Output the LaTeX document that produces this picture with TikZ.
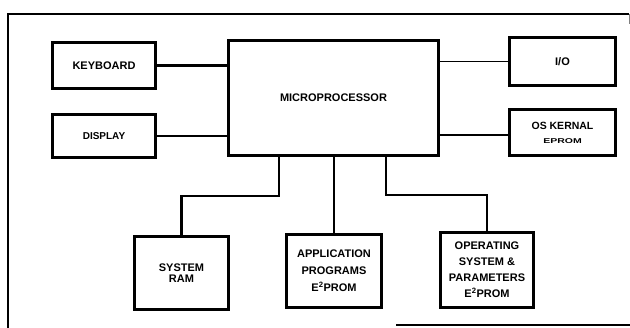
\documentclass[tikz,border=0pt]{standalone}
\usepackage{fontspec}
\setmainfont{Liberation Sans}
\tikzset{
  blk/.style={draw=black, line width=3pt, inner sep=0pt, align=center,
    font=\fontsize{11}{15}\selectfont\bfseries},
  thick conn/.style={line width=2.4pt},
  mid conn/.style={line width=1.8pt},
  thin conn/.style={line width=1.1pt},
  frameline/.style={line width=1.5pt}
}
\begin{document}
\begin{tikzpicture}[x=1pt,y=-1pt]
\useasboundingbox (0,0) rectangle (630,328);
% frame
\draw[frameline] (8,328) -- (8,14) -- (629,14);
\draw[line width=0.8pt, black!50] (629,14) -- (629,24);
\draw[frameline] (396,325) -- (630,325);
% nodes
\node[blk, minimum width=103pt, minimum height=46pt] (kb) at (104,65.5) {KEYBOARD};
\node[blk, minimum width=103pt, minimum height=43pt, font=\fontsize{10}{11}\selectfont\bfseries] (disp) at (104,136) {DISPLAY};
\node[blk, minimum width=210pt, minimum height=115pt] (mp) at (333.5,98) {MICROPROCESSOR};
\node[blk, minimum width=106pt, minimum height=48pt] (io) at (562.5,61.5) {I/O};
\node[blk, minimum width=106pt, minimum height=46pt] (os) at (562.5,132.5)
  {\fontsize{10.5}{11}\selectfont\bfseries OS KERNAL\\[-1pt]\scalebox{1.5}[1]{\fontsize{7}{8}\selectfont\bfseries EPROM}};
\node[blk, minimum width=94pt, minimum height=73pt, font=\fontsize{11}{11.5}\selectfont\bfseries] (ram) at (181.5,273) {SYSTEM\\RAM};
\node[blk, minimum width=95pt, minimum height=73pt, font=\fontsize{11}{17}\selectfont\bfseries] (app) at (334,271) {APPLICATION\\PROGRAMS\\E\textsuperscript{2}PROM};
\node[blk, minimum width=93pt, minimum height=75pt, font=\fontsize{11}{16}\selectfont\bfseries] (op) at (487,270) {OPERATING\\SYSTEM \&\\PARAMETERS\\E\textsuperscript{2}PROM};
% connectors
\draw[thick conn] (kb.east) -- (kb.east -| mp.west);
\draw[thin conn] (disp.east) -- (disp.east -| mp.west);
\draw[mid conn] (mp.east |- io.west) -- (io.west);
\draw[mid conn] (mp.east |- 0,135) -- (os.west |- 0,135);
\coordinate (ramtap) at (279,196);
\coordinate (optap) at (386,195);
\draw[thick conn] (mp.south -| ramtap) -- (ramtap) -| (ram.north);
\draw[thick conn] (mp.south -| app.north) -- (app.north);
\draw[thick conn] (mp.south -| optap) -- (optap) -| (op.north);
\end{tikzpicture}
\end{document}
